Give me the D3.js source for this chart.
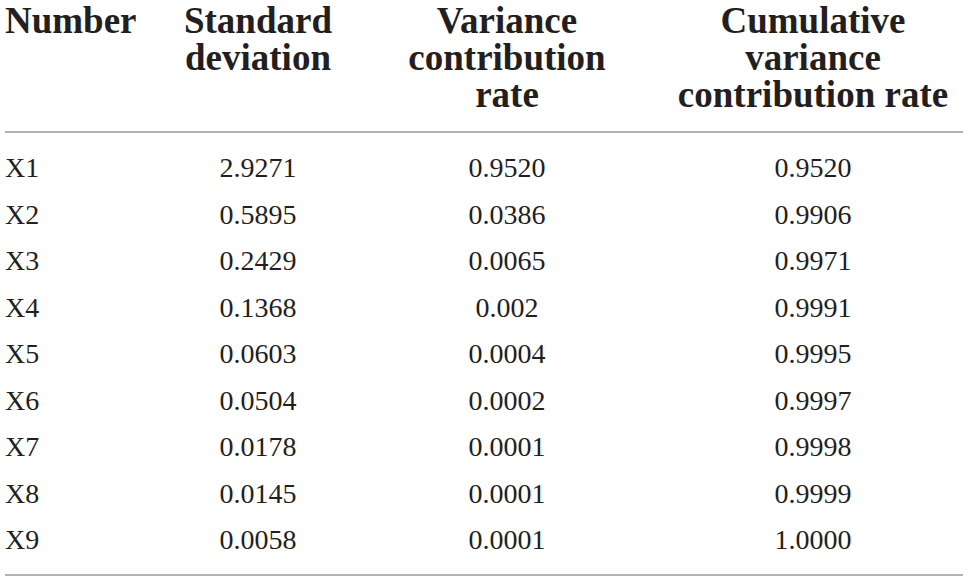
<!DOCTYPE html>
<html lang="en">
<head>
<meta charset="utf-8">
<script src="https://cdn.jsdelivr.net/npm/d3@7"></script>
<style>
  html, body { margin: 0; padding: 0; background: #fff; }
  svg { display: block; }
</style>
</head>
<body>
<div id="chart"></div>
<script>
"use strict";

// table data
const headers = [
  ["Number"],
  ["Standard", "deviation"],
  ["Variance", "contribution", "rate"],
  ["Cumulative", "variance", "contribution rate"]
];
const numbers = ["X1", "X2", "X3", "X4", "X5", "X6", "X7", "X8", "X9"];
const stdDev = ["2.9271", "0.5895", "0.2429", "0.1368", "0.0603", "0.0504", "0.0178", "0.0145", "0.0058"];
const varRate = ["0.9520", "0.0386", "0.0065", "0.002", "0.0004", "0.0002", "0.0001", "0.0001", "0.0001"];
const cumRate = ["0.9520", "0.9906", "0.9971", "0.9991", "0.9995", "0.9997", "0.9998", "0.9999", "1.0000"];

const W = 968, H = 580;
const ink = "#231f20";

const svg = d3.select("#chart").append("svg")
  .attr("width", W).attr("height", H);

// column positions (first column left aligned, others centred)
const colX = d3.scaleOrdinal().domain([0, 1, 2, 3]).range([5, 258, 507, 813]);
const anchor = i => i === 0 ? "start" : "middle";

const rowY = d3.scalePoint().domain(numbers).range([177, 549]);

// header
const head = svg.append("g")
  .attr("font-family", "'Liberation Serif', 'DejaVu Serif', serif")
  .attr("font-weight", "bold")
  .attr("font-size", 37)
  .attr("fill", ink);

headers.forEach((lines, i) => {
  head.selectAll(null).data(lines).join("text")
    .attr("x", colX(i))
    .attr("y", (d, j) => 33 + j * 37)
    .attr("text-anchor", anchor(i))
    .text(d => d);
});

// rules
svg.selectAll("line.rule").data([132, 575]).join("line")
  .attr("class", "rule")
  .attr("x1", 5).attr("x2", 963)
  .attr("y1", d => d).attr("y2", d => d)
  .attr("stroke", "#9a9a9a")
  .attr("stroke-width", 1.5);

// body
const cols = [numbers, stdDev, varRate, cumRate];
const body = svg.append("g")
  .attr("font-family", "'Liberation Serif', 'DejaVu Serif', serif")
  .attr("font-size", 28)
  .attr("fill", ink);

cols.forEach((vals, i) => {
  body.selectAll(null).data(vals).join("text")
    .attr("x", colX(i))
    .attr("y", (d, j) => rowY(numbers[j]))
    .attr("text-anchor", anchor(i))
    .text(d => d);
});
</script>
</body>
</html>
